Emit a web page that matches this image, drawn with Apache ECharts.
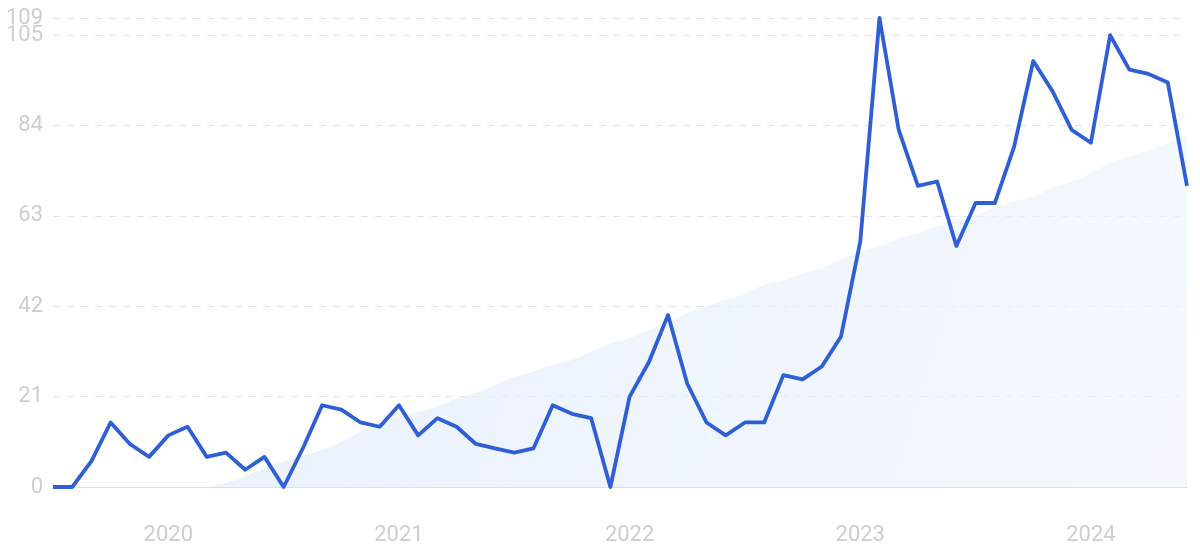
<!DOCTYPE html>
<html>
<head>
<meta charset="utf-8">
<script src="https://cdn.jsdelivr.net/npm/echarts@6/dist/echarts.min.js"></script>
<style>
html,body{margin:0;padding:0;background:#fff;}
#chart{width:1200px;height:553px;}
</style>
</head>
<body>
<div id="chart"></div>
<script>
const months = [
  "2019-07","2019-08","2019-09","2019-10","2019-11","2019-12",
  "2020-01","2020-02","2020-03","2020-04","2020-05","2020-06",
  "2020-07","2020-08","2020-09","2020-10","2020-11","2020-12",
  "2021-01","2021-02","2021-03","2021-04","2021-05","2021-06",
  "2021-07","2021-08","2021-09","2021-10","2021-11","2021-12",
  "2022-01","2022-02","2022-03","2022-04","2022-05","2022-06",
  "2022-07","2022-08","2022-09","2022-10","2022-11","2022-12",
  "2023-01","2023-02","2023-03","2023-04","2023-05","2023-06",
  "2023-07","2023-08","2023-09","2023-10","2023-11","2023-12",
  "2024-01","2024-02","2024-03","2024-04","2024-05","2024-06"
];
const searchValues = [
  0,0,6,15,10,7,12,14,7,8,4,7,
  0,9,19,18,15,14,19,12,16,14,10,9,
  8,9,19,17,16,0,21,29,40,24,15,12,
  15,15,26,25,28,35,57,109,83,70,71,56,
  66,66,79,99,92,83,80,105,97,96,94,70
];
const trendValues = [
  0,0,0,0,0,0,0,0,0,1,2.4,4.4,
  5.9,7.4,8.6,10.5,12.9,14.8,16.4,17.5,18.7,20.6,21.8,23.7,
  25.6,26.8,28.4,29.5,31.5,33.4,34.6,36.5,38.4,40.4,42,43.5,
  45,47,48,49.7,50.9,53,54.7,55.9,57.8,59,60.5,62,
  63.3,64.8,66.4,67.5,69.5,71,73,75.3,76.8,78.4,79.9,81.5
];
const yTicks = [0,21,42,63,84,105,109];

const chart = echarts.init(document.getElementById('chart'));
const labelFont = 'Roboto, "Noto Sans", sans-serif';
const yMin = yTicks[0];
const yMax = yTicks[yTicks.length - 1];
const yLabelStyle = {
  color: '#cdcdd2',
  fontSize: 22,
  fontFamily: labelFont,
  margin: 10,
  hideOverlap: false
};
chart.setOption({
  animation: false,
  grid: {left: 53, right: 13, top: 18, bottom: 66, containLabel: false},
  xAxis: {
    type: 'category',
    data: months,
    boundaryGap: false,
    axisLine: {show: true, lineStyle: {color: '#d5e1f2', width: 1}},
    axisTick: {show: false},
    splitLine: {show: false},
    axisLabel: {
      interval: function (i, v) { return v.slice(5) === '01'; },
      formatter: function (v) { return v.slice(0, 4); },
      color: '#cdcdd2',
      fontSize: 22,
      fontFamily: labelFont,
      margin: 37,
      hideOverlap: false
    }
  },
  yAxis: [
    {
      type: 'value',
      min: yMin,
      max: yMax,
      interval: yTicks[1] - yTicks[0],
      axisLine: {show: false},
      axisTick: {show: false},
      axisLabel: Object.assign({showMaxLabel: false, showMinLabel: true}, yLabelStyle),
      splitLine: {show: true, lineStyle: {color: '#dce4ee', type: [7, 7], width: 1}}
    },
    {
      type: 'value',
      position: 'left',
      min: yMin,
      max: yMax,
      axisLine: {show: false},
      axisTick: {show: false},
      splitLine: {show: false},
      axisLabel: Object.assign({customValues: [yMax], showMaxLabel: true}, yLabelStyle)
    }
  ],
  series: [
    {
      type: 'line',
      data: trendValues,
      smooth: 0.3,
      symbol: 'none',
      lineStyle: {width: 0, opacity: 0},
      areaStyle: {
        color: new echarts.graphic.LinearGradient(0, 0, 1, 1, [
          {offset: 0, color: '#dfe9fa'},
          {offset: 1, color: '#eff5fe'}
        ])
      },
      z: 1
    },
    {
      type: 'line',
      data: searchValues,
      symbol: 'none',
      lineStyle: {color: '#2f5fd6', width: 3.8, join: 'round'},
      z: 3
    }
  ]
});
</script>
</body>
</html>
